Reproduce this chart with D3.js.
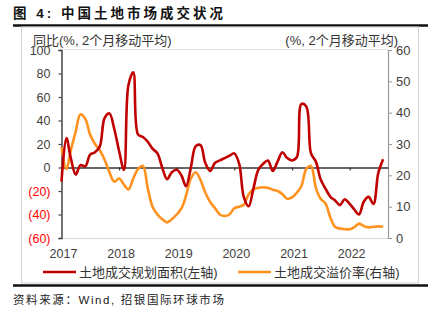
<!DOCTYPE html>
<html>
<head>
<meta charset="utf-8">
<script src="https://cdn.jsdelivr.net/npm/d3@7"></script>
<style>
  html, body { margin: 0; padding: 0; background: #fff; }
  svg { display: block; font-family: "Liberation Sans", Arial, "Noto Sans CJK SC", sans-serif; }
</style>
</head>
<body>
<div id="chart"></div>
<script>
// monthly series, 2-month moving average, starting Jan 2017
const startMonth = new Date(2017, 0, 1);

// land transaction planned area, YoY % (left axis)
const landArea = [
  -12, 25, 8, -6, 2, 1, 11, 13, 18, 42, 46, 33,
  14, -2, 70, 81, 28, 26, 22, 16, 12, 0, -10, -4,
  -2, -7, -16, 0, 18, 19, 4, -3, 4, 6, 8, 10,
  12, 3, -25, -33, -18, -2, 3, 6, -3, 5, 13, 8,
  6, 9, 54, 52, 12, 5, -10, -18, -25, -28, -32, -27,
  -31, -36, -40, -29, -25, -31, -5, 7
];

// land transaction premium rate, % (right axis)
const premiumRate = [
  29, 22, 28, 34, 39.5, 38, 33, 30, 28, 25, 21, 18,
  19, 17, 15.5, 19, 22, 23, 16, 10, 7.5, 6, 5, 6,
  7.5, 9.5, 13.5, 19, 21, 18.5, 14.5, 11.5, 9.5, 7.5, 7, 7.5,
  9.5, 10, 10.6, 14, 15.5, 16, 16.2, 16, 15.4, 15, 14, 12.5,
  13, 14.5, 16.5, 22, 23, 16, 12.5, 11, 6.5, 3.5, 3, 2.8,
  2.8, 3.5, 4.6, 3.8, 3.4, 3.6, 3.7, 3.6
];

const years = [2017, 2018, 2019, 2020, 2021, 2022];
const leftTicks = [100, 80, 60, 40, 20, 0, -20, -40, -60];
const rightTicks = [60, 50, 40, 30, 20, 10, 0];

const seriesNames = ["土地成交规划面积(左轴)", "土地成交溢价率(右轴)"];
const seriesColors = ["#c00000", "#ff921f"];

const W = 435, H = 321;
const plot = { left: 61.5, right: 388, top: 50, bottom: 238 };

const svg = d3.select("#chart").append("svg")
  .attr("width", W)
  .attr("height", H);

// title and rules
svg.append("text")
  .attr("x", 13).attr("y", 18)
  .attr("font-size", 13.5).attr("font-weight", "bold")
  .attr("fill", "#111")
  .style("letter-spacing", "3px")
  .text("图 4: 中国土地市场成交状况");

svg.append("line")
  .attr("x1", 13).attr("x2", 428).attr("y1", 25.5).attr("y2", 25.5)
  .attr("stroke", "#111").attr("stroke-width", 2.5);

// chart frame
svg.append("rect")
  .attr("x", 21.5).attr("y", 27).attr("width", 397).attr("height", 256)
  .attr("fill", "none").attr("stroke", "#d0d0d0").attr("stroke-width", 1);

svg.append("line")
  .attr("x1", 13).attr("x2", 428).attr("y1", 285.5).attr("y2", 285.5)
  .attr("stroke", "#111").attr("stroke-width", 2.5);

svg.append("text")
  .attr("x", 13).attr("y", 304)
  .attr("font-size", 11.5).attr("fill", "#222")
  .style("letter-spacing", "1.6px")
  .text("资料来源：Wind, 招银国际环球市场");

// scales
const dates = landArea.map((_, i) => d3.timeMonth.offset(startMonth, i));
const x = d3.scaleTime()
  .domain([startMonth, new Date(2022, 8, 1)])
  .range([plot.left, plot.right]);
const yL = d3.scaleLinear().domain([-60, 100]).range([plot.bottom, plot.top]);
const yR = d3.scaleLinear().domain([0, 60]).range([plot.bottom, plot.top]);

// plot area top/bottom borders
svg.append("line")
  .attr("x1", plot.left).attr("x2", plot.right)
  .attr("y1", plot.top - 0.5).attr("y2", plot.top - 0.5)
  .attr("stroke", "#e2e2e2");
svg.append("line")
  .attr("x1", plot.left).attr("x2", plot.right)
  .attr("y1", plot.bottom + 0.5).attr("y2", plot.bottom + 0.5)
  .attr("stroke", "#d8d8d8");

// left axis
const gL = svg.append("g")
  .attr("transform", `translate(${plot.left},0)`)
  .call(d3.axisLeft(yL).tickValues(leftTicks).tickSizeOuter(0).tickSize(3).tickPadding(8)
    .tickFormat(d => d < 0 ? `(${-d})` : d));
gL.select(".domain").attr("stroke", "#444").attr("stroke-width", 1.5);
gL.selectAll(".tick line").attr("stroke", "#444").attr("stroke-width", 1.2);
gL.selectAll(".tick text")
  .attr("font-size", 12.5)
  .attr("font-family", "Liberation Sans, Arial, sans-serif")
  .attr("fill", d => d < 0 ? "#ff0000" : "#404040");

// right axis
const gR = svg.append("g")
  .attr("transform", `translate(${plot.right},0)`)
  .call(d3.axisRight(yR).tickValues(rightTicks).tickSizeOuter(0).tickSize(4).tickPadding(4));
gR.select(".domain").attr("stroke", "#9a9a9a").attr("stroke-width", 1.2);
gR.selectAll(".tick line").attr("stroke", "#9a9a9a");
gR.selectAll(".tick text")
  .attr("font-size", 13)
  .attr("font-family", "Liberation Sans, Arial, sans-serif")
  .attr("fill", "#404040");

// zero line with year ticks
const gX = svg.append("g")
  .attr("transform", `translate(0,${yL(0)})`)
  .call(d3.axisBottom(x).tickValues(years.map(y => new Date(y, 0, 1))).tickSize(3).tickSizeOuter(0).tickFormat(""));
gX.select(".domain").attr("stroke", "#333").attr("stroke-width", 1.5);
gX.selectAll(".tick line").attr("stroke", "#333").attr("stroke-width", 1.2);

// year labels along the bottom
svg.append("g").selectAll("text")
  .data(years)
  .join("text")
  .attr("x", d => x(new Date(d, 0, 1)) + 2)
  .attr("y", 258)
  .attr("text-anchor", "middle")
  .attr("font-size", 12.5)
  .attr("fill", "#404040")
  .text(d => d);

// axis titles
svg.append("text")
  .attr("x", 33).attr("y", 44.5)
  .attr("font-size", 13).attr("fill", "#333")
  .text("同比(%, 2个月移动平均)");
svg.append("text")
  .attr("x", 398).attr("y", 44.5)
  .attr("text-anchor", "end")
  .attr("font-size", 13).attr("fill", "#333")
  .text("(%, 2个月移动平均)");

// series lines
const lineL = d3.line()
  .x((d, i) => x(dates[i]))
  .y(d => yL(d))
  .curve(d3.curveCatmullRom.alpha(0.5));
const lineR = d3.line()
  .x((d, i) => x(dates[i]))
  .y(d => yR(d))
  .curve(d3.curveCatmullRom.alpha(0.5));

svg.append("path")
  .datum(premiumRate)
  .attr("d", lineR)
  .attr("fill", "none")
  .attr("stroke", seriesColors[1])
  .attr("stroke-width", 2.6)
  .attr("stroke-linejoin", "round");

svg.append("path")
  .datum(landArea)
  .attr("d", lineL)
  .attr("fill", "none")
  .attr("stroke", seriesColors[0])
  .attr("stroke-width", 2.6)
  .attr("stroke-linejoin", "round");

// legend
const legendX = [43, 238];
const legend = svg.append("g").selectAll("g")
  .data(seriesNames)
  .join("g")
  .attr("transform", (d, i) => `translate(${legendX[i]},272)`);
legend.append("line")
  .attr("x1", 0).attr("x2", 33)
  .attr("stroke", (d, i) => seriesColors[i])
  .attr("stroke-width", 2.6);
legend.append("text")
  .attr("x", 36).attr("y", 4.5)
  .attr("font-size", 13).attr("fill", "#333")
  .text(d => d);
</script>
</body>
</html>
